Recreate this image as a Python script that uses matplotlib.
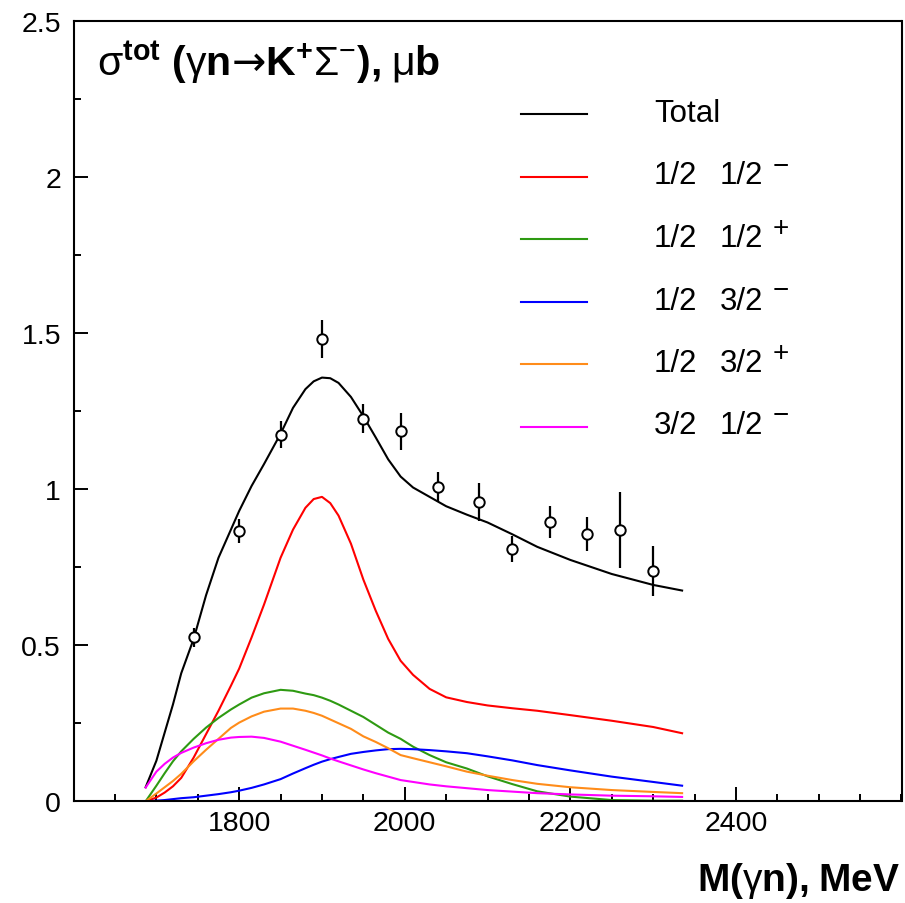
import matplotlib
matplotlib.use('Agg')
import matplotlib.pyplot as plt
from matplotlib.ticker import MultipleLocator

plt.rcParams['font.family'] = ['Liberation Sans', 'DejaVu Sans']
plt.rcParams['mathtext.fontset'] = 'custom'
plt.rcParams['mathtext.rm'] = 'Liberation Sans'
plt.rcParams['mathtext.bf'] = 'Liberation Sans:bold'
plt.rcParams['mathtext.it'] = 'Liberation Sans:italic'
plt.rcParams['mathtext.sf'] = 'DejaVu Sans'

# ---- data ----
mass = [1687, 1700, 1710, 1720, 1730, 1745, 1760, 1775, 1790, 1800, 1815, 1830,
        1850, 1865, 1880, 1890, 1900, 1910, 1920, 1935, 1950, 1965, 1980, 1995,
        2010, 2030, 2050, 2075, 2100, 2130, 2160, 2200, 2250, 2300, 2335]

total = [0.045, 0.13, 0.22, 0.31, 0.41, 0.52, 0.66, 0.78, 0.87, 0.93, 1.01, 1.08,
         1.177, 1.26, 1.32, 1.345, 1.357, 1.355, 1.34, 1.295, 1.233, 1.165, 1.095, 1.04,
         1.005, 0.975, 0.945, 0.918, 0.893, 0.855, 0.815, 0.773, 0.728, 0.693, 0.675]

s11_minus = [0.0, 0.012, 0.028, 0.048, 0.075, 0.14, 0.215, 0.29, 0.37, 0.425, 0.525, 0.63,
             0.78, 0.87, 0.94, 0.968, 0.975, 0.955, 0.915, 0.825, 0.71, 0.61, 0.52, 0.45,
             0.405, 0.36, 0.333, 0.318, 0.307, 0.298, 0.29, 0.276, 0.258, 0.238, 0.218]

s11_plus = [0.0, 0.05, 0.09, 0.128, 0.16, 0.2, 0.236, 0.267, 0.294, 0.31, 0.332, 0.346,
            0.357, 0.354, 0.345, 0.34, 0.332, 0.322, 0.31, 0.29, 0.27, 0.245, 0.22, 0.2,
            0.175, 0.148, 0.125, 0.105, 0.08, 0.055, 0.032, 0.015, 0.004, 0.002, 0.002]

s13_minus = [0.0, 0.002, 0.004, 0.007, 0.01, 0.013, 0.018, 0.023, 0.029, 0.034, 0.043, 0.054,
             0.071, 0.089, 0.106, 0.117, 0.127, 0.135, 0.142, 0.152, 0.158, 0.163, 0.167, 0.168,
             0.167, 0.164, 0.16, 0.154, 0.144, 0.131, 0.116, 0.099, 0.079, 0.062, 0.05]

s13_plus = [0.0, 0.025, 0.045, 0.065, 0.088, 0.128, 0.165, 0.2, 0.235, 0.252, 0.272, 0.287,
            0.297, 0.297, 0.29, 0.283, 0.274, 0.262, 0.25, 0.232, 0.208, 0.19, 0.17, 0.148,
            0.138, 0.125, 0.112, 0.095, 0.082, 0.068, 0.056, 0.045, 0.036, 0.03, 0.026]

s31_minus = [0.044, 0.095, 0.12, 0.14, 0.155, 0.172, 0.186, 0.197, 0.204, 0.206, 0.207, 0.203,
             0.191, 0.178, 0.165, 0.156, 0.147, 0.137, 0.128, 0.115, 0.102, 0.09, 0.079, 0.068,
             0.062, 0.054, 0.048, 0.042, 0.036, 0.031, 0.026, 0.022, 0.018, 0.016, 0.014]

data_mass = [1745, 1800, 1850, 1900, 1950, 1995, 2040, 2090, 2130, 2175, 2220, 2260, 2300]
data_xsec = [0.525, 0.865, 1.174, 1.481, 1.225, 1.185, 1.006, 0.958, 0.808, 0.894, 0.856, 0.869, 0.738]
data_err = [0.03, 0.038, 0.043, 0.062, 0.047, 0.059, 0.048, 0.06, 0.042, 0.051, 0.055, 0.121, 0.08]

series = [total, s11_minus, s11_plus, s13_minus, s13_plus, s31_minus]
colors = ['black', '#ff0000', '#2e9a12', '#0000ff', '#ff8c1a', '#ff00ff']
leg_iso = ['', '1/2', '1/2', '1/2', '1/2', '3/2']
leg_spin = ['', '1/2', '1/2', '3/2', '3/2', '1/2']
leg_parity = ['', '\u2212', '+', '\u2212', '+', '\u2212']
leg_first = 'Total'

# ---- figure ----
W, H = 905, 904
fig = plt.figure(figsize=(W / 100, H / 100), dpi=100)
ax_l, ax_r, ax_t, ax_b = 73.6, 901.5, 21.7, 802.3
ax = fig.add_axes([ax_l / W, 1 - ax_b / H, (ax_r - ax_l) / W, (ax_b - ax_t) / H])

for ys, c in zip(series, colors):
    ax.plot(mass, ys, color=c, lw=1.5, zorder=2, solid_joinstyle='round')

ax.errorbar(data_mass, data_xsec, yerr=data_err, fmt='o', mfc='white', mec='black',
            ms=7.5, mew=1.4, ecolor='black', elinewidth=1.6, capsize=0, zorder=3)

ax.set_xlim(1600, 2600)
ax.set_ylim(0, 2.5)
ax.xaxis.set_minor_locator(MultipleLocator(50))
ax.yaxis.set_minor_locator(MultipleLocator(0.25))
ax.set_xticks([1800, 2000, 2200, 2400])
ax.set_xticklabels(['1800', '2000', '2200', '2400'])
ax.set_yticks([0, 0.5, 1, 1.5, 2, 2.5])
ax.set_yticklabels(['0', '0.5', '1', '1.5', '2', '2.5'])
ax.tick_params(which='both', direction='in', top=False, right=False, width=1.4)
ax.tick_params(which='major', length=10, labelsize=20.5)
ax.tick_params(which='minor', length=5)
ax.tick_params(axis='x', pad=6)
ax.tick_params(axis='y', pad=9)
for sp in ax.spines.values():
    sp.set_linewidth(1.5)

# legend (manual layout)
def fx(px):
    return (px - ax_l) / (ax_r - ax_l)

def fy(py):
    return (ax_b - py) / (ax_b - ax_t)

row0 = 115.0
step = 62.5
for i, c in enumerate(colors):
    ly = row0 + i * step
    ax.plot([fx(521), fx(587)], [fy(ly), fy(ly)], color=c, lw=1.5, transform=ax.transAxes,
            clip_on=False)
    base = ly + 7.0
    if i == 0:
        ax.text(fx(654), fy(base), leg_first, fontsize=22.5, ha='left', va='baseline',
                transform=ax.transAxes)
    else:
        ax.text(fx(654), fy(base), leg_iso[i], fontsize=22.5, ha='left', va='baseline',
                transform=ax.transAxes)
        ax.text(fx(720), fy(base), leg_spin[i], fontsize=22.5, ha='left', va='baseline',
                transform=ax.transAxes)
        ax.text(fx(773), fy(base - 11), leg_parity[i], fontsize=20, ha='left', va='baseline',
                transform=ax.transAxes)

title = (r'$\mathrm{σ}^{\mathbf{tot}}\ \mathbf{(}\mathrm{γ}\mathbf{n}\mathsf{→}'
         r'\mathbf{K}^{\mathbf{+}}\mathrm{Σ}^{\mathrm{−}}\mathbf{)}\mathbf{,}\;\mathrm{μ}\mathbf{b}$')
fig.text(97 / W, 1 - 76 / H, title, fontsize=29.5, ha='left', va='baseline')

xlabel = r'$\mathbf{M(}\mathrm{γ}\mathbf{n)}\mathbf{,}\;\mathbf{MeV}$'
fig.text(900 / W, 1 - 891.5 / H, xlabel, fontsize=28, ha='right', va='baseline')

fig.savefig('out.png', dpi=100)
